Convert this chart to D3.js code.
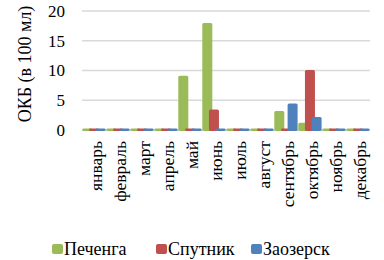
<!DOCTYPE html>
<html>
<head>
<meta charset="utf-8">
<script src="https://cdn.jsdelivr.net/npm/d3@7"></script>
<style>
  body { margin: 0; background: #fff; }
  svg text { font-family: 'Liberation Serif', serif; }
</style>
</head>
<body>
<svg id="chart" width="384" height="260" font-family="Liberation Serif, serif"></svg>
<script>
// months on the x axis
const months = ["январь", "февраль", "март", "апрель", "май", "июнь", "июль", "август", "сентябрь", "октябрь", "ноябрь", "декабрь"];
const seriesNames = ["Печенга", "Спутник", "Заозерск"];
const seriesColors = ["#9bbb59", "#c0504d", "#4f81bd"];

// values (ОКБ, в 100 мл)
const pechenga = [0, 0, 0, 0, 9.1, 18.0, 0, 0, 3.2, 1.2, 0, 0];
const sputnik  = [0, 0, 0, 0, 0, 3.45, 0, 0, 0, 10.1, 0, 0];
const zaozersk = [0, 0, 0, 0, 0, 0, 0, 0, 4.45, 2.2, 0, 0];
const yTicks = [0, 5, 10, 15, 20];

const allSeries = [pechenga, sputnik, zaozersk];

const svg = d3.select("#chart");

const plotLeft = 82, plotRight = 370, plotTop = 11, plotBottom = 130;

const x = d3.scaleBand().domain(months).range([plotLeft, plotRight]).padding(0);
const y = d3.scaleLinear().domain([0, 20]).range([plotBottom, plotTop]);

// bars overlap a little, like the original
const barW = 10;
const inner = d3.scalePoint().domain(seriesNames).range([0.3, 13.6]);

// gridlines
svg.append("g").selectAll("line")
  .data(yTicks)
  .join("line")
  .attr("x1", plotLeft)
  .attr("x2", plotRight)
  .attr("y1", d => y(d))
  .attr("y2", d => y(d))
  .attr("stroke", "#d9d9d9")
  .attr("stroke-width", 1.5);

// y tick labels
svg.append("g").selectAll("text")
  .data(yTicks)
  .join("text")
  .attr("x", 65)
  .attr("y", d => y(d))
  .attr("dy", "0.35em")
  .attr("text-anchor", "end")
  .attr("font-family", "Liberation Serif")
  .attr("font-size", 17)
  .text(d => d);

// y title
svg.append("text")
  .attr("transform", "translate(25," + 64 + ") rotate(-90)")
  .attr("dy", "0.35em")
  .attr("text-anchor", "middle")
  .attr("font-family", "Liberation Serif")
  .attr("font-size", 18)
  .text("ОКБ (в 100 мл)");

// bars
allSeries.forEach((vals, s) => {
  svg.append("g").selectAll("rect")
    .data(vals.map((v, i) => ({ m: months[i], v: v })))
    .join("rect")
    .attr("x", d => x(d.m) + inner(seriesNames[s]))
    .attr("width", barW)
    .attr("y", d => Math.min(y(d.v), plotBottom - 1.5))
    .attr("height", d => Math.max(plotBottom - y(d.v), 1.5) + 1)
    .attr("rx", 1.5)
    .attr("fill", seriesColors[s]);
});

// month labels
svg.append("g").selectAll("text")
  .data(months)
  .join("text")
  .attr("transform", d => "translate(" + (x(d) + x.bandwidth() / 2 + 1.5) + ",141) rotate(-90)")
  .attr("dy", "0.35em")
  .attr("text-anchor", "end")
  .attr("font-family", "Liberation Serif")
  .attr("font-size", 17.5)
  .text(d => d);

// legend
const legendX = [52, 156, 251];
const legend = svg.append("g").selectAll("g")
  .data(seriesNames)
  .join("g")
  .attr("transform", (d, i) => "translate(" + legendX[i] + ",244)");

legend.append("rect")
  .attr("width", 11)
  .attr("height", 10)
  .attr("rx", 2)
  .attr("fill", (d, i) => seriesColors[i]);

legend.append("text")
  .attr("x", 12)
  .attr("y", 11)
  .attr("font-family", "Liberation Serif")
  .attr("font-size", 18)
  .text(d => d);
</script>
</body>
</html>
